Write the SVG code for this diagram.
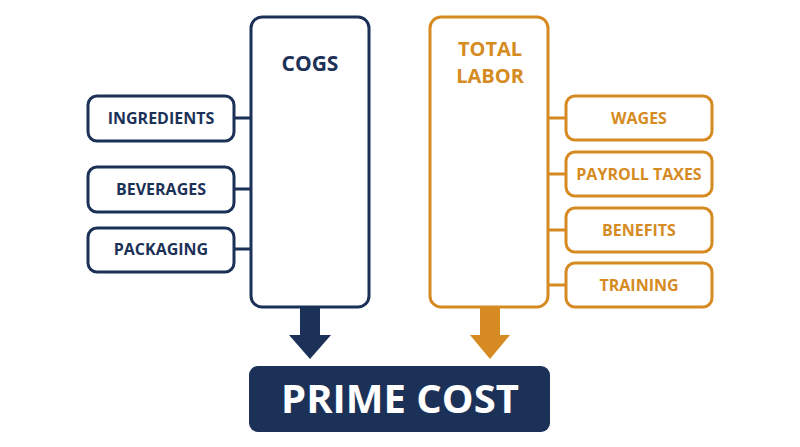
<svg xmlns="http://www.w3.org/2000/svg" width="800" height="447" viewBox="0 0 800 447">
<style>
.n{fill:#fff;stroke:#1c3157;stroke-width:3}
.o{fill:#fff;stroke:#d68b22;stroke-width:3}
.tn{fill:#1c3157;font-family:"Open Sans","Liberation Sans",sans-serif;font-weight:700;text-anchor:middle}
.to{fill:#d68b22;font-family:"Open Sans","Liberation Sans",sans-serif;font-weight:700;text-anchor:middle}
.s{font-size:16px}
.h{font-size:21px}
.cn{stroke:#1c3157;stroke-width:3;fill:none}
.co{stroke:#d68b22;stroke-width:3;fill:none}
</style>
<rect width="800" height="447" fill="#fff"/>
<g id="connectors">
<path class="cn" d="M234 118H251M234 189H251M234 249H251"/>
<path class="co" d="M548 118H566M548 174H566M548 230H566M548 285H566"/>
<path fill="#1c3157" d="M300 308H320V335H331L310 359L289 335H300Z"/>
<path fill="#d68b22" d="M480 308H500V335H510L490 359L470 335H480Z"/>
</g>
<g id="cogs"><rect class="n" x="251" y="17" width="118" height="290" rx="11"/><text class="tn h" x="310" y="71">COGS</text></g>
<g id="ingredients"><rect class="n" x="88" y="96" width="146" height="45" rx="9"/><text class="tn s" x="161" y="124">INGREDIENTS</text></g>
<g id="beverages"><rect class="n" x="88" y="167" width="146" height="45" rx="9"/><text class="tn s" x="161" y="195">BEVERAGES</text></g>
<g id="packaging"><rect class="n" x="88" y="228" width="146" height="44" rx="9"/><text class="tn s" x="161" y="255">PACKAGING</text></g>
<g id="labor"><rect class="o" x="430" y="17" width="118" height="290" rx="11"/><text class="to" font-size="20" x="490" y="56">TOTAL</text><text class="to" font-size="20" x="490" y="83">LABOR</text></g>
<g id="wages"><rect class="o" x="566" y="96" width="146" height="44" rx="9"/><text class="to s" x="639" y="124">WAGES</text></g>
<g id="payroll"><rect class="o" x="566" y="152" width="146" height="44" rx="9"/><text class="to s" x="639" y="180">PAYROLL TAXES</text></g>
<g id="benefits"><rect class="o" x="566" y="208" width="146" height="44" rx="9"/><text class="to s" x="639" y="236">BENEFITS</text></g>
<g id="training"><rect class="o" x="566" y="263" width="146" height="44" rx="9"/><text class="to s" x="639" y="291">TRAINING</text></g>
<g id="prime"><rect x="249" y="366" width="301" height="66" rx="9" fill="#1c3157"/><text x="400" y="413" fill="#fff" font-family="Open Sans, Liberation Sans, sans-serif" font-weight="700" font-size="40" text-anchor="middle">PRIME COST</text></g>
</svg>
